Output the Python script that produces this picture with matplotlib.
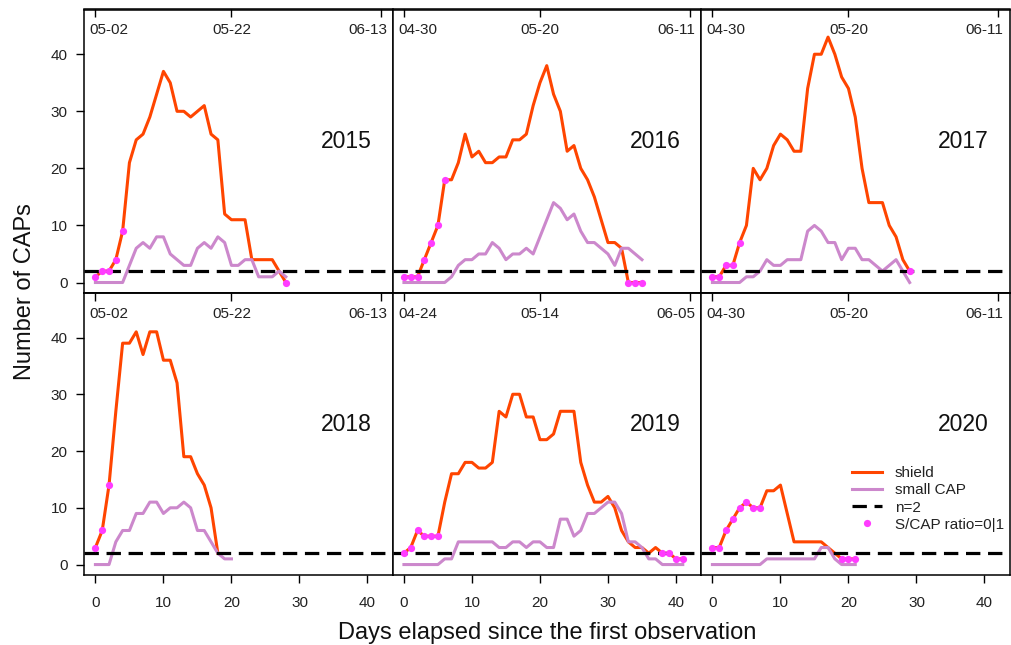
import matplotlib
matplotlib.use("Agg")
import matplotlib.pyplot as plt
from matplotlib.lines import Line2D
from matplotlib.transforms import blended_transform_factory
import numpy as np
import pandas as pd

plt.rcParams['font.family'] = ['Liberation Sans', 'DejaVu Sans']

# ---- data: daily counts per season, day 0 = first observation ----
years = [2015, 2016, 2017, 2018, 2019, 2020]
first_obs = ['2015-05-02', '2016-04-30', '2017-04-30',
             '2018-05-02', '2019-04-24', '2020-04-30']

shield_2015 = [1, 2, 2, 4, 9, 21, 25, 26, 29, 33, 37, 35, 30, 30, 29, 30, 31, 26, 25,
               12, 11, 11, 11, 4, 4, 4, 4, 2, 0]
small_2015 = [0, 0, 0, 0, 0, 3, 6, 7, 6, 8, 8, 5, 4, 3, 3, 6, 7, 6, 8, 7, 3, 3, 4, 4,
              1, 1, 1, 2, 1]

shield_2016 = [1, 1, 1, 4, 7, 10, 18, 18, 21, 26, 22, 23, 21, 21, 22, 22, 25, 25, 26,
               31, 35, 38, 33, 30, 23, 24, 20, 18, 15, 11, 7, 7, 6, 0, 0, 0]
small_2016 = [0, 0, 0, 0, 0, 0, 0, 1, 3, 4, 4, 5, 5, 7, 6, 4, 5, 5, 6, 5, 8, 11, 14,
              13, 11, 12, 9, 7, 7, 6, 5, 3, 6, 6, 5, 4]

shield_2017 = [1, 1, 3, 3, 7, 10, 20, 18, 20, 24, 26, 25, 23, 23, 34, 40, 40, 43, 40,
               36, 34, 29, 20, 14, 14, 14, 10, 8, 4, 2]
small_2017 = [0, 0, 0, 0, 0, 1, 1, 2, 4, 3, 3, 4, 4, 4, 9, 10, 9, 7, 7, 4, 6, 6, 4, 4,
              3, 2, 3, 4, 2, 0]

shield_2018 = [3, 6, 14, 27, 39, 39, 41, 37, 41, 41, 36, 36, 32, 19, 19, 16, 14, 10, 2]
small_2018 = [0, 0, 0, 4, 6, 6, 9, 9, 11, 11, 9, 10, 10, 11, 10, 6, 6, 4, 2, 1, 1]

shield_2019 = [2, 3, 6, 5, 5, 5, 11, 16, 16, 18, 18, 17, 17, 18, 27, 26, 30, 30, 26, 26,
               22, 22, 23, 27, 27, 27, 18, 14, 11, 11, 12, 10, 6, 4, 3, 3, 2, 3, 2, 2,
               1, 1]
small_2019 = [0, 0, 0, 0, 0, 0, 1, 1, 4, 4, 4, 4, 4, 4, 3, 3, 4, 4, 3, 4, 4, 3, 3, 8, 8,
              5, 6, 9, 9, 10, 11, 11, 9, 4, 4, 3, 1, 1, 0, 0, 0, 0]

shield_2020 = [3, 3, 6, 8, 10, 11, 10, 10, 13, 13, 14, 9, 4, 4, 4, 4, 4, 3, 2, 1, 1, 1]
small_2020 = [0, 0, 0, 0, 0, 0, 0, 0, 1, 1, 1, 1, 1, 1, 1, 1, 3, 3, 1, 0, 0, 0]

shield = [shield_2015, shield_2016, shield_2017, shield_2018, shield_2019, shield_2020]
small = [small_2015, small_2016, small_2017, small_2018, small_2019, small_2020]

day_ticks = [0, 10, 20, 30, 40]
date_ticks = [0, 20, 42]
count_ticks = [0, 10, 20, 30, 40]
threshold = 2

# ---- styling ----
C_SHIELD = '#FF4500'
C_SMALL = '#CC88CC'
C_DOT = '#FF3CFF'
DASH = (4.5, 2.4)

W, H = 1011, 645
fig = plt.figure(figsize=(W / 100, H / 100), dpi=100)

left_px = 84
panel_w = 308.5
row_edges = [(9.5, 293), (293, 575)]

xlim = (-1.68, 43.68)
ylim = (-1.84, 47.84)
tick_len = 5.8

# date labels sit just inside the panel edges
date_label_pos = [2, 20, 40]

axes = []
for i, yr in enumerate(years):
    r, c = divmod(i, 3)
    top_px, bot_px = row_edges[r]
    ax = fig.add_axes([(left_px + c * panel_w) / W, (H - bot_px) / H,
                       panel_w / W, (bot_px - top_px) / H])
    axes.append(ax)

    s = np.array(shield[i], dtype=float)
    m = np.array(small[i], dtype=float)
    xs = np.arange(len(s))
    xm = np.arange(len(m))

    ax.plot(xs, s, color=C_SHIELD, lw=2.2, solid_joinstyle='round', zorder=3)
    ax.plot(xm, m, color=C_SMALL, lw=2.2, solid_joinstyle='round', zorder=3)
    ax.axhline(threshold, color='black', lw=2.3, dashes=DASH, zorder=4)

    # days where one of the two classes is absent (ratio 0 or 1)
    n = min(len(s), len(m))
    sel = ((s[:n] == 0) | (m[:n] == 0)) & ~((s[:n] == 0) & (m[:n] == 0))
    ax.plot(xs[:n][sel], s[:n][sel], 'o', color=C_DOT, ms=5.2, mec='none', zorder=5)

    ax.set_xlim(*xlim)
    ax.set_ylim(*ylim)

    ax.text(36.9, 24.7, str(yr), ha='center', va='center', fontsize=16.5,
            color='#111111')

    for sp in ax.spines.values():
        sp.set_linewidth(1.1)

    # calendar dates on the top edge
    start = pd.Timestamp(first_obs[i])
    date_labels = [(start + pd.Timedelta(days=d)).strftime('%m-%d') for d in date_ticks]
    sec = ax.secondary_xaxis('top')
    sec.set_xticks(date_ticks)
    sec.set_xticklabels([])
    sec.tick_params(direction='in', length=tick_len, width=1.0)
    sec.spines['top'].set_linewidth(1.1)
    trans = blended_transform_factory(ax.transData, ax.transAxes)
    yfrac = 1 - 20.5 / (bot_px - top_px)
    for xp, lab in zip(date_label_pos, date_labels):
        ax.text(xp, yfrac, lab, transform=trans, ha='center', va='center',
                fontsize=11, color='#222222')

    if r == 1:
        ax.set_xticks(day_ticks)
        ax.tick_params(axis='x', direction='out', length=tick_len, width=1.0,
                       pad=9, labelsize=11, labelcolor='#222222')
    else:
        ax.set_xticks([])

    if c == 0:
        ax.set_yticks(count_ticks)
        ax.tick_params(axis='y', direction='out', length=tick_len, width=1.0,
                       pad=6, labelsize=11, labelcolor='#222222')
    else:
        ax.set_yticks([])

# legend in the last panel
handles = [Line2D([], [], color=C_SHIELD, lw=2.2),
           Line2D([], [], color=C_SMALL, lw=2.2),
           Line2D([], [], color='black', lw=2.3, dashes=DASH),
           Line2D([], [], color=C_DOT, marker='o', ls='none', ms=5.2, mec='none')]
labels = ['shield', 'small CAP', 'n=2', 'S/CAP ratio=0|1']
axes[-1].legend(handles, labels, loc='upper left', bbox_to_anchor=(0.49, 0.385),
                frameon=False, fontsize=11, handlelength=1.95, handletextpad=0.85,
                labelspacing=0.2, borderaxespad=0, borderpad=0, labelcolor='#222222')

fig.text((left_px + 1.5 * panel_w) / W, 1 - 633 / H,
         'Days elapsed since the first observation', ha='center', va='center',
         fontsize=17, color='#111111')
fig.text(25 / W, 1 - 292 / H, 'Number of CAPs', ha='center', va='center',
         rotation=90, fontsize=17, color='#111111')

fig.savefig('out.png', dpi=100, facecolor='white')
